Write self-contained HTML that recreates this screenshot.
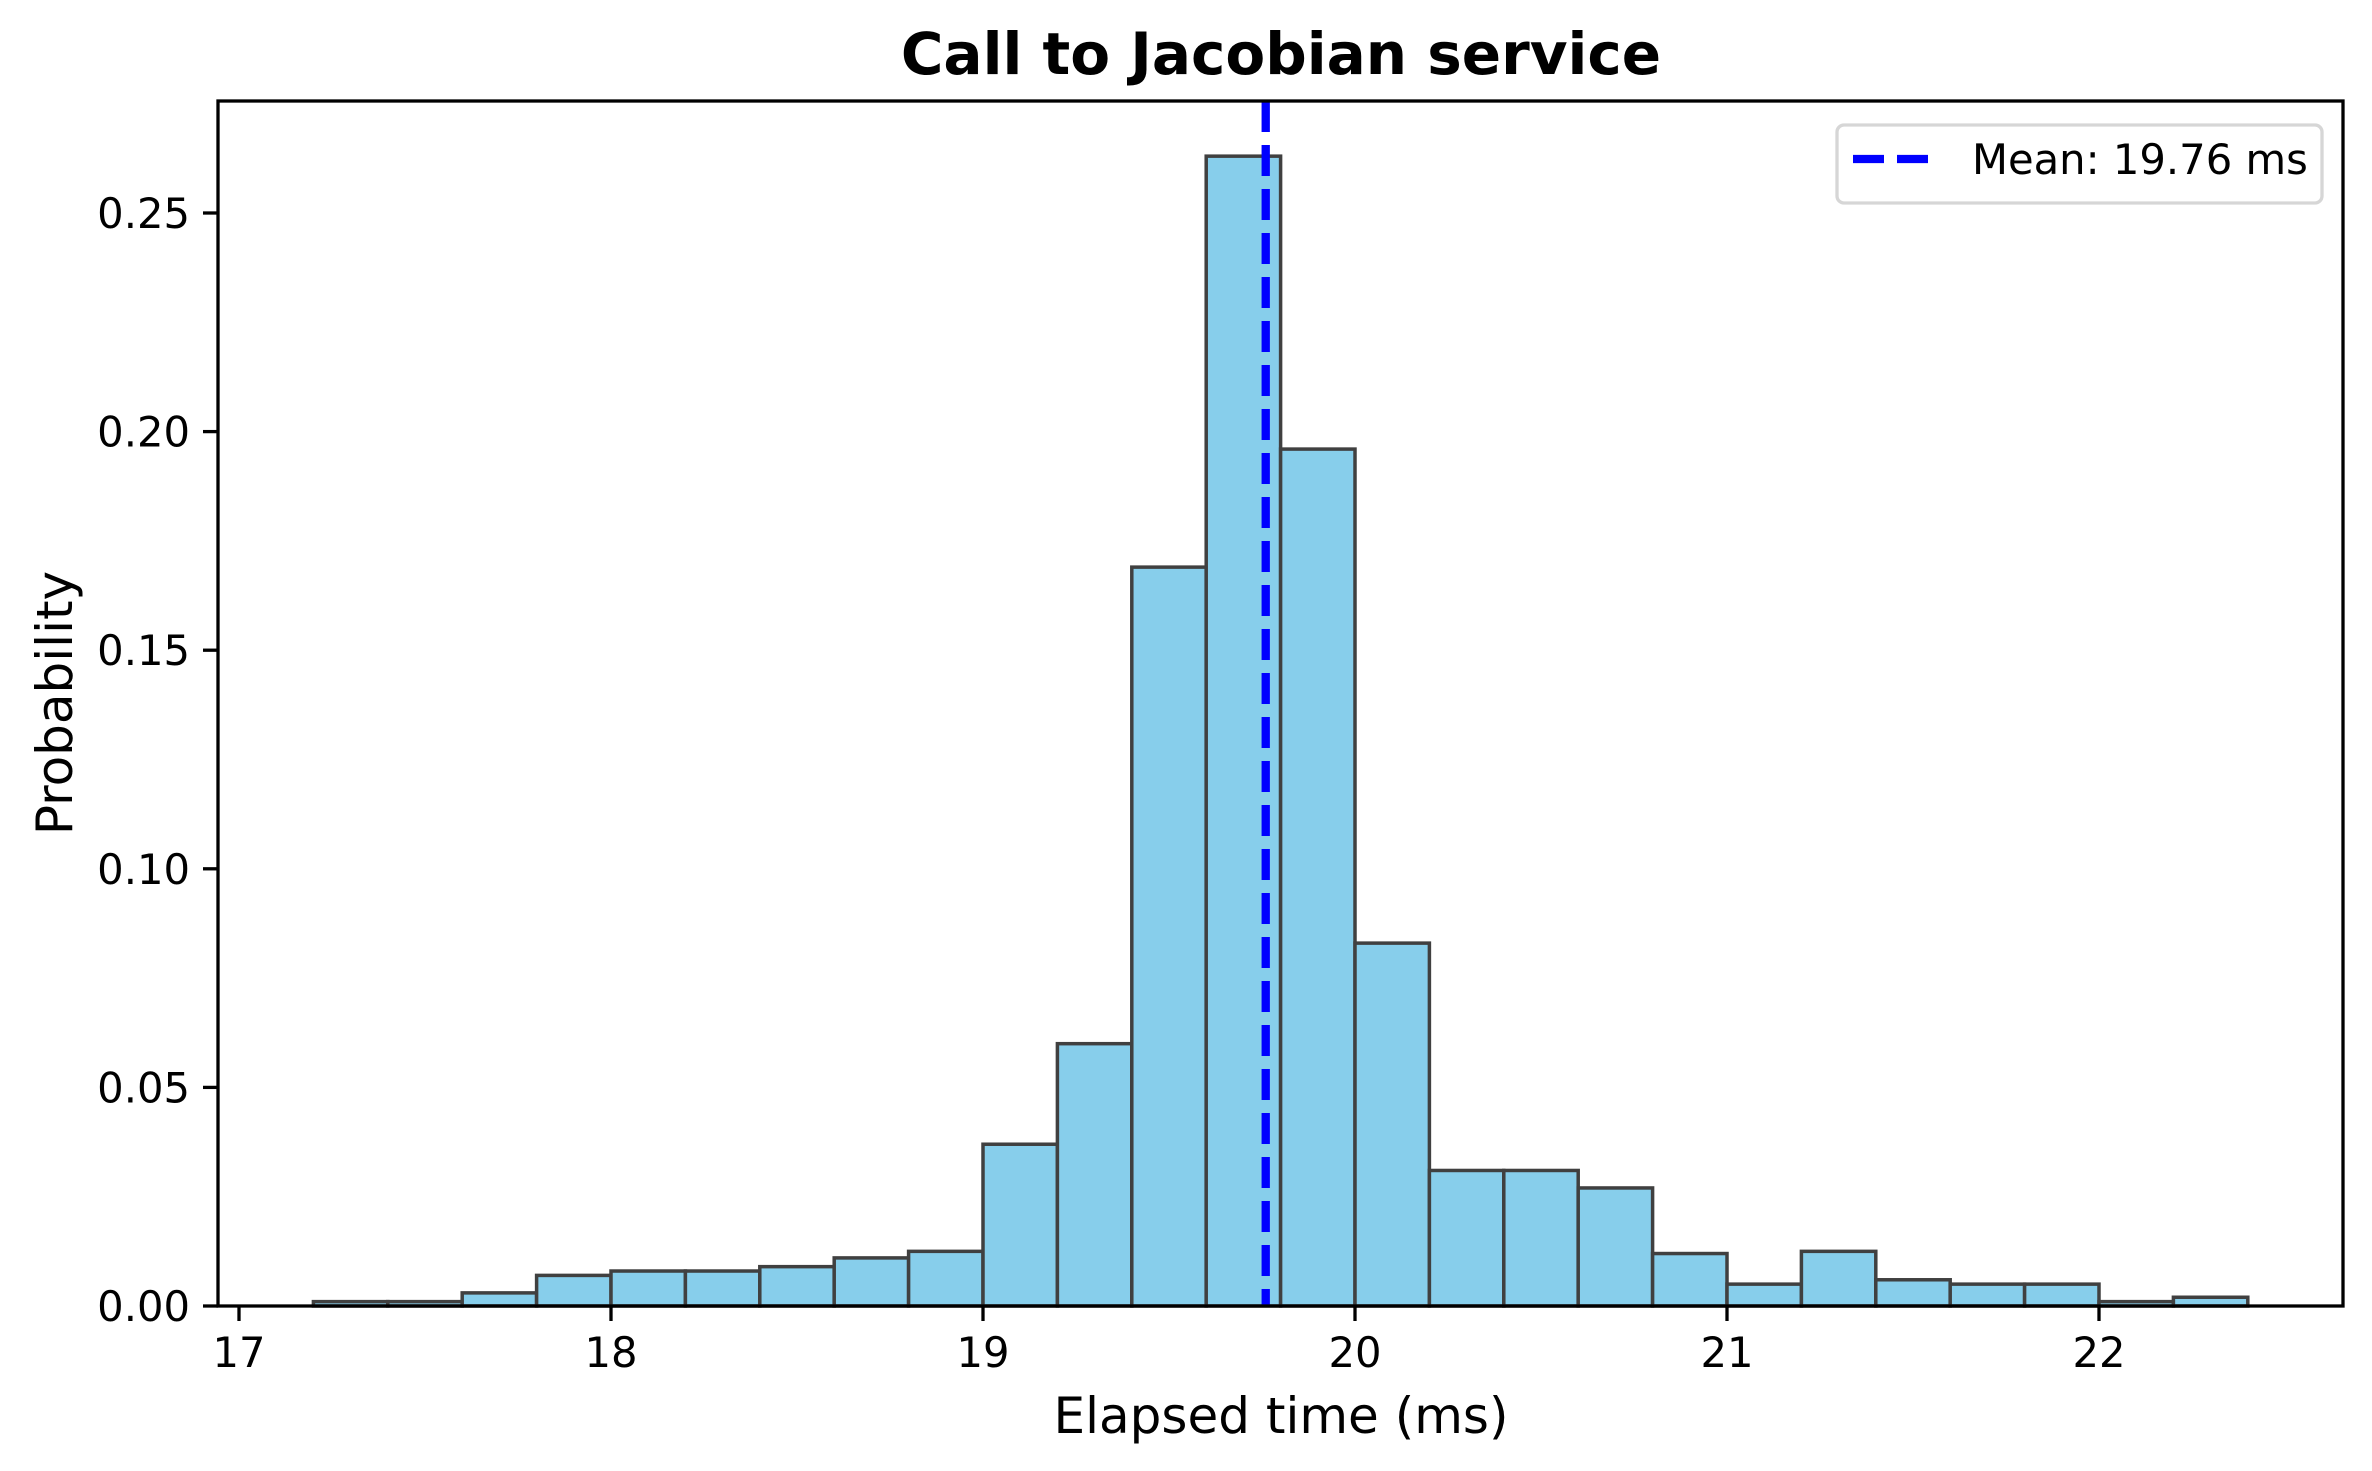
<!DOCTYPE html>
<html><head><meta charset="utf-8"><style>
html,body{margin:0;padding:0;background:#fff;}
svg{display:block;font-family:"DejaVu Sans","Liberation Sans",sans-serif;}
</style></head><body>
<svg id="chart" width="2372" height="1471" viewBox="0 0 2372 1471" xmlns="http://www.w3.org/2000/svg">
<rect x="0" y="0" width="2372" height="1471" fill="#fff"/>
<g id="bars"></g>
<g id="mean"></g>
<rect x="218" y="101" width="2125" height="1205" fill="none" stroke="#000" stroke-width="3.3"/>
<g id="xticks"></g>
<g id="yticks"></g>
<text x="1281" y="74" text-anchor="middle" font-size="58" font-weight="bold">Call to Jacobian service</text>
<text x="1281" y="1433" text-anchor="middle" font-size="50">Elapsed time (ms)</text>
<text x="0" y="0" transform="translate(72,703) rotate(-90)" text-anchor="middle" font-size="50">Probability</text>
<g>
<rect x="1837" y="125" width="485" height="78" rx="7" fill="#fff" fill-opacity="0.8" stroke="#d6d6d6" stroke-width="3.3"/>
<line x1="1853" y1="159" x2="1928" y2="159" stroke="#0000ff" stroke-width="8.3" stroke-dasharray="31,13"/>
<text x="1972" y="174" font-size="41.7">Mean: 19.76 ms</text>
</g>
</svg>
<script>
const binStarts = [17.2,17.4,17.6,17.8,18.0,18.2,18.4,18.6,18.8,19.0,19.2,19.4,19.6,19.8,20.0,20.2,20.4,20.6,20.8,21.0,21.2,21.4,21.6,21.8,22.0,22.2];
const binWidth = 0.2;
const probs = [0.001,0.001,0.003,0.007,0.008,0.008,0.009,0.011,0.0125,0.037,0.060,0.169,0.263,0.196,0.083,0.031,0.031,0.027,0.012,0.005,0.0125,0.006,0.005,0.005,0.001,0.002];
const meanValue = 19.76;
const xTickValues = [17,18,19,20,21,22];
const yTickValues = [0,0.05,0.10,0.15,0.20,0.25];
const yTickLabels = ["0.00","0.05","0.10","0.15","0.20","0.25"];

const NS = "http://www.w3.org/2000/svg";
const X0 = 239, XU = 372, Y0 = 1306, YU = 4372;
function sx(v){ return X0 + (v - 17) * XU; }
function sy(v){ return Y0 - v * YU; }
function mk(tag, attrs){ const e = document.createElementNS(NS, tag); for (const k in attrs) e.setAttribute(k, attrs[k]); return e; }

const bars = document.getElementById('bars');
binStarts.forEach((b, i) => {
  const x1 = sx(b), x2 = sx(b + binWidth), y = sy(probs[i]);
  const r = mk('rect', {x: x1, y: y, width: x2 - x1, height: Y0 - y, fill: '#87ceeb', stroke: '#404040', 'stroke-width': 3.5});
  
  
  bars.appendChild(r);
});

const mg = document.getElementById('mean');
const ml = mk('line', {x1: sx(meanValue), x2: sx(meanValue), y1: 101, y2: Y0, stroke: '#0000ff', 'stroke-width': 8.3, 'stroke-dasharray': '31,13'});


mg.appendChild(ml);

const xg = document.getElementById('xticks');
xTickValues.forEach(v => {
  const x = sx(v);
  const t = mk('line', {x1: x, x2: x, y1: Y0, y2: Y0 + 15, stroke: '#000', 'stroke-width': 3.3});
  
  
  xg.appendChild(t);
  const l = mk('text', {x: x, y: 1367, 'text-anchor': 'middle', 'font-size': 41.7});
  l.textContent = String(v);
  
  
  xg.appendChild(l);
});

const yg = document.getElementById('yticks');
yTickValues.forEach((v, i) => {
  const y = sy(v);
  const t = mk('line', {x1: 218 - 15, x2: 218, y1: y, y2: y, stroke: '#000', 'stroke-width': 3.3});
  
  
  yg.appendChild(t);
  const l = mk('text', {x: 190, y: y + 15, 'text-anchor': 'end', 'font-size': 41.7});
  l.textContent = yTickLabels[i];
  
  
  yg.appendChild(l);
});
</script>
</body></html>
